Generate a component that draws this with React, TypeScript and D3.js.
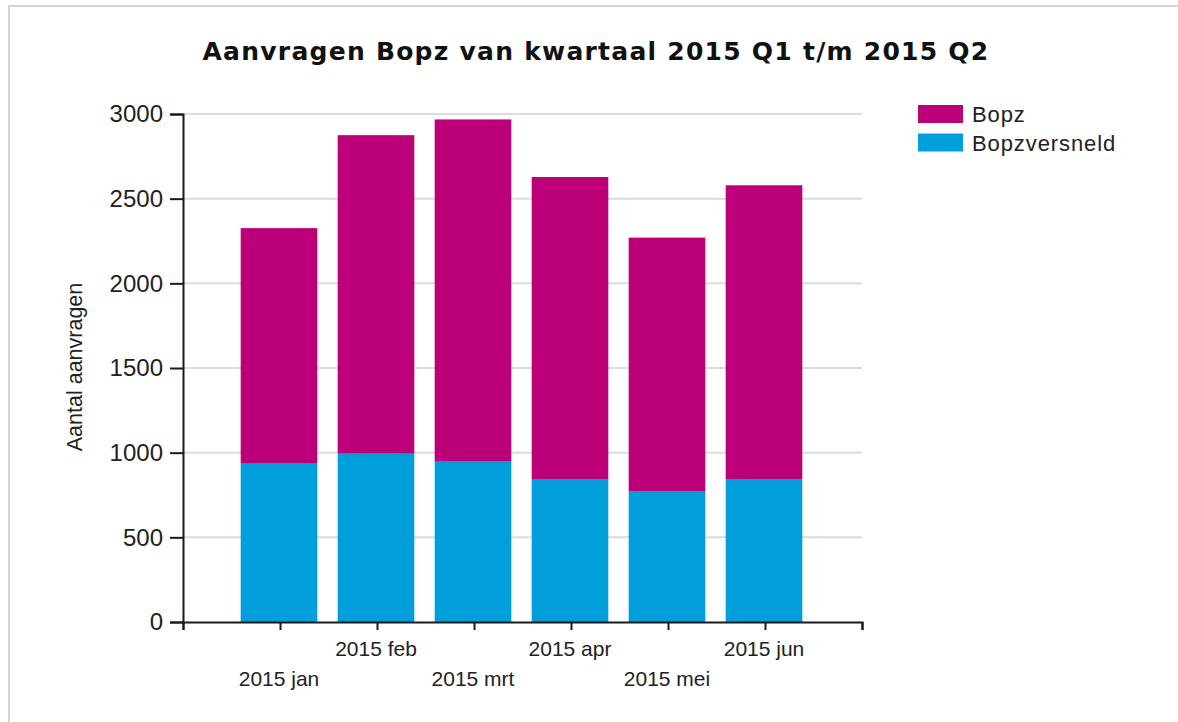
import React, { useEffect, useRef } from "react";
import * as d3 from "d3";

const months = ["2015 jan", "2015 feb", "2015 mrt", "2015 apr", "2015 mei", "2015 jun"];
const bopzVersneld = [935, 994, 947, 841, 770, 841];
const bopz = [1391, 1881, 2021, 1787, 1500, 1738];
const seriesNames = ["Bopz", "Bopzversneld"];
const seriesColors = ["#bc0077", "#009fdb"];
const yTicks = [0, 500, 1000, 1500, 2000, 2500, 3000];

const W = 1178;
const H = 722;
const margin = { top: 114, right: 316, bottom: 100, left: 183 };

export default function App() {
  const ref = useRef<SVGSVGElement>(null);

  useEffect(() => {
    const svg = d3.select(ref.current);
    svg.selectAll("*").remove();

    const rows = months.map((m, i) => ({ month: m, Bopzversneld: bopzVersneld[i], Bopz: bopz[i] }));
    const stacked = d3.stack<any>().keys(["Bopzversneld", "Bopz"])(rows);
    const color = d3.scaleOrdinal<string>().domain(seriesNames).range(seriesColors);

    // x: one slot per month plus half a slot of space at each end
    const x = d3.scaleLinear().domain([0, months.length + 1]).range([margin.left, W - margin.right]);
    const y = d3.scaleLinear().domain([0, 3000]).range([H - margin.bottom, margin.top]);
    const barW = (x(1) - x(0)) * 0.79;

    // frame
    svg.append("line").attr("x1", 8).attr("x2", W).attr("y1", 6).attr("y2", 6)
      .attr("stroke", "#d4d4d4").attr("stroke-width", 2);
    svg.append("line").attr("x1", 9).attr("x2", 9).attr("y1", 6).attr("y2", H)
      .attr("stroke", "#d4d4d4").attr("stroke-width", 2);

    svg.append("text")
      .attr("x", 596).attr("y", 60)
      .attr("text-anchor", "middle")
      .attr("font-family", "DejaVu Sans")
      .attr("font-weight", "bold")
      .attr("font-size", 25)
      .attr("letter-spacing", 1.25)
      .attr("fill", "#111")
      .text("Aanvragen Bopz van kwartaal 2015 Q1 t/m 2015 Q2");

    // gridlines
    svg.append("g").selectAll("line")
      .data(yTicks.filter(d => d > 0))
      .enter().append("line")
      .attr("x1", x(0)).attr("x2", x(months.length + 1))
      .attr("y1", d => y(d)).attr("y2", d => y(d))
      .attr("stroke", "#dcdcdc").attr("stroke-width", 2);

    // bars
    svg.append("g").selectAll("g")
      .data(stacked)
      .enter().append("g")
      .attr("fill", d => color(d.key))
      .selectAll("rect")
      .data(d => d)
      .enter().append("rect")
      .attr("x", (d, i) => x(i + 1) - barW / 2 - 1)
      .attr("width", barW)
      .attr("y", d => y(d[1]))
      .attr("height", d => y(d[0]) - y(d[1]));

    // y axis
    const yAxis = svg.append("g")
      .attr("transform", `translate(${x(0)},0)`)
      .call(d3.axisLeft(y).tickValues(yTicks).tickSize(13).tickPadding(7).tickFormat(d3.format("d")));
    yAxis.selectAll("text")
      .attr("font-family", "Liberation Sans, Arial")
      .attr("font-size", 24)
      .attr("fill", "#222");

    // x axis
    svg.append("g")
      .attr("transform", `translate(0,${y(0)})`)
      .call(d3.axisBottom(x).tickValues(d3.range(months.length + 2)).tickSize(8).tickFormat(() => ""));

    svg.selectAll(".domain, .tick line").attr("stroke", "#1a1a1a").attr("stroke-width", 2);

    svg.append("g").selectAll("text")
      .data(months)
      .enter().append("text")
      .attr("x", (d, i) => x(i + 1) - 1)
      .attr("y", (d, i) => (i % 2 === 0 ? 686 : 656))
      .attr("text-anchor", "middle")
      .attr("font-family", "Liberation Sans, Arial")
      .attr("font-size", 21)
      .attr("fill", "#222")
      .text(d => d);

    svg.append("text")
      .attr("transform", `translate(82,367) rotate(-90)`)
      .attr("text-anchor", "middle")
      .attr("font-family", "Liberation Sans, Arial")
      .attr("font-size", 21.5)
      .attr("fill", "#222")
      .text("Aantal aanvragen");

    // legend
    const legend = svg.append("g").attr("transform", "translate(918,105)");
    const item = legend.selectAll("g")
      .data(seriesNames)
      .enter().append("g")
      .attr("transform", (d, i) => `translate(0,${i * 28.5})`);
    item.append("rect").attr("width", 45).attr("height", 18).attr("fill", d => color(d));
    item.append("text")
      .attr("x", 54).attr("y", 17)
      .attr("font-family", "Liberation Sans, Arial")
      .attr("font-size", 22)
      .attr("letter-spacing", 0.9)
      .attr("fill", "#222")
      .text(d => d);
  }, []);

  return (
    <svg
      ref={ref}
      width={W}
      height={H}
      style={{ position: "absolute", left: 0, top: 0, background: "#fff" }}
    />
  );
}
